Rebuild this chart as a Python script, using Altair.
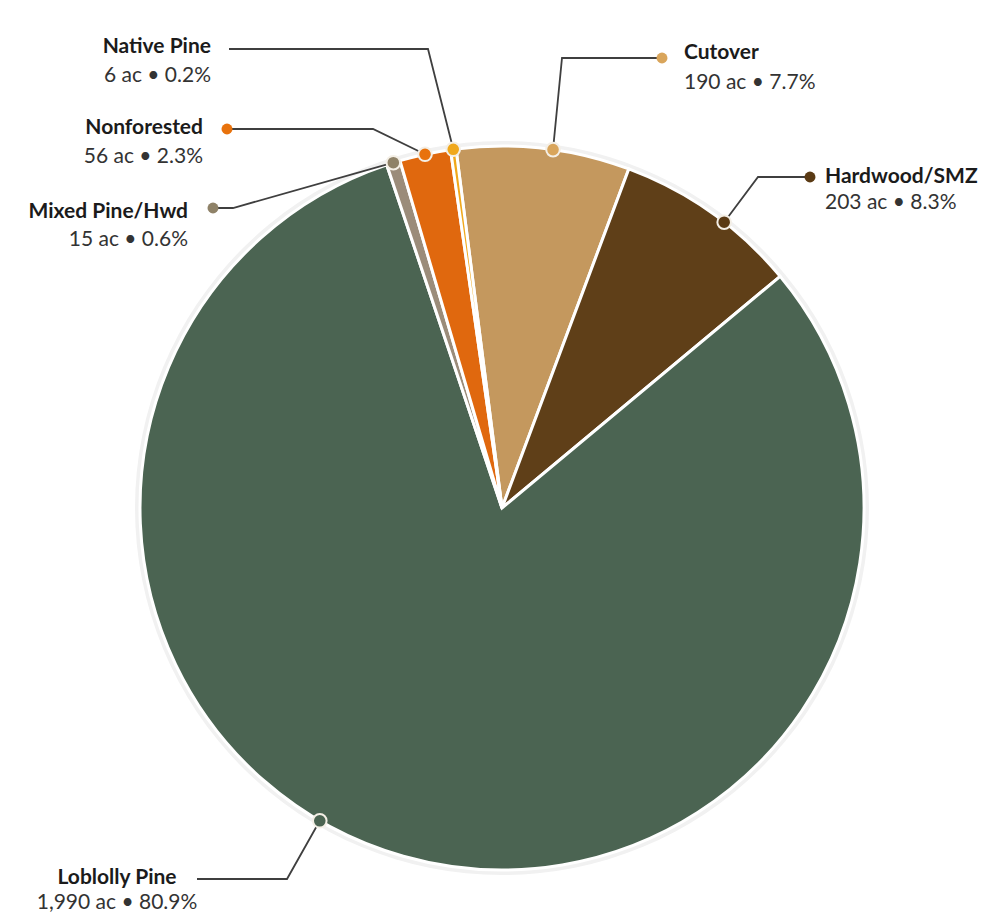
import math
import altair as alt
import pandas as pd

# ---- data ----
names = ["Cutover", "Hardwood/SMZ", "Loblolly Pine", "Mixed Pine/Hwd", "Nonforested", "Native Pine"]
acres = [190, 203, 1990, 15, 56, 6]
slice_colors = ["#c4985e", "#5f3f18", "#4b6452", "#9b8c7a", "#e0680e", "#f0a81c"]
dot_colors = ["#d9a55b", "#5a3a14", "#4b6452", "#8f8268", "#e8720c", "#f0a81c"]

# ---- layout ----
W, H = 970, 906
CX, CY = 502, 508          # pie centre in page pixels
R = 362
START_DEG = -7.3
anchor_offset_deg = [1.5, 2.5, 14.4, 0.0, 0.0, 0.0]
leader_pts = [
    [(562, 58), (662, 58)],
    [(758, 177), (810, 177)],
    [(287, 879), (197, 879)],
    [(233, 208), (213, 208)],
    [(373, 129), (227, 129)],
    [(428, 49), (229, 49)],
]
end_dot = [True, True, False, True, True, False]
text_pos = [  # x, y bold, y sub, align
    (684, 53, 83, "left"),
    (825, 177, 203, "left"),
    (117, 878, 903, "center"),
    (188, 212, 240, "right"),
    (203, 128, 157, "right"),
    (211, 47, 76, "right"),
]
FS = 21

def px2d(px, py):
    return px - CX, CY - py

total = sum(acres)
xs = alt.Scale(domain=[8 - CX, 8 + W - CX], range=[0, W], nice=False, zero=False)
ys = alt.Scale(domain=[CY - 8 - H, CY - 8], range=[H, 0], nice=False, zero=False)

pie_df = pd.DataFrame({
    "name": names, "acres": acres, "ord": list(range(len(names))),
    "cx": [0] * len(names), "cy": [0] * len(names),
})

anchors, lines, dots, texts = [], [], [], []
cum = START_DEG
for i, (n, a) in enumerate(zip(names, acres)):
    span = a / total * 360.0
    mid = cum + span / 2 + anchor_offset_deg[i]
    cum += span
    t = math.radians(mid)
    ax, ay = R * math.sin(t), R * math.cos(t)
    anchors.append({"name": n, "x": ax, "y": ay, "col": dot_colors[i]})
    pts = [(ax, ay)] + [px2d(*p) for p in leader_pts[i]]
    for k, (lx, ly) in enumerate(pts):
        lines.append({"name": n, "seq": k, "x": lx, "y": ly})
    if end_dot[i]:
        ex, ey = px2d(*leader_pts[i][-1])
        dots.append({"name": n, "x": ex, "y": ey, "col": dot_colors[i]})
    tx, tyb, tys, al = text_pos[i]
    pct = a / total * 100
    texts.append({"name": n, "x": px2d(tx, 0)[0], "yb": px2d(0, tyb)[1], "ys": px2d(0, tys)[1],
                  "bold": n, "sub": f"{a:,} ac \u2022 {pct:.1f}%", "align": al})

anch_df = pd.DataFrame(anchors)
line_df = pd.DataFrame(lines)
dot_df = pd.DataFrame(dots)
text_df = pd.DataFrame(texts)

X = lambda f: alt.X(f, type="quantitative", scale=xs, axis=None)
Y = lambda f: alt.Y(f, type="quantitative", scale=ys, axis=None)

shadow = alt.Chart(pie_df.head(1)).mark_arc(
    radius=R + 5, theta=0, theta2=2 * math.pi, color="#f1f1f1"
).encode(x=X("cx"), y=Y("cy"))

t0 = 2 * math.pi + math.radians(START_DEG)
pie = alt.Chart(pie_df).mark_arc(radius=R, stroke="white", strokeWidth=3).encode(
    x=X("cx"), y=Y("cy"),
    theta=alt.Theta("acres:Q", stack=True, scale=alt.Scale(range=[t0, t0 + 2 * math.pi])),
    order=alt.Order("ord:Q"),
    color=alt.Color("name:N", scale=alt.Scale(domain=names, range=slice_colors), legend=None),
)

leaders = alt.Chart(line_df).mark_line(color="#3f3f3f", strokeWidth=1.8).encode(
    x=X("x"), y=Y("y"), detail="name:N", order="seq:Q"
)

end_dots = alt.Chart(dot_df).mark_point(filled=True, size=120, opacity=1, strokeWidth=0).encode(
    x=X("x"), y=Y("y"), fill=alt.Fill("col:N", scale=None)
)

anchor_dots = alt.Chart(anch_df).mark_point(
    filled=True, size=185, opacity=1, stroke="#f4efe6", strokeWidth=2
).encode(x=X("x"), y=Y("y"), fill=alt.Fill("col:N", scale=None))

text_layers = []
for al in ["left", "center", "right"]:
    sub = text_df[text_df["align"] == al]
    if len(sub) == 0:
        continue
    text_layers.append(alt.Chart(sub).mark_text(
        align=al, baseline="middle", font="Lato", fontSize=FS, fontWeight="bold", color="#1b1b1b"
    ).encode(x=X("x"), y=Y("yb"), text="bold:N"))
    text_layers.append(alt.Chart(sub).mark_text(
        align=al, baseline="middle", font="Lato", fontSize=FS, color="#333333"
    ).encode(x=X("x"), y=Y("ys"), text="sub:N"))

chart = alt.layer(shadow, pie, leaders, end_dots, anchor_dots, *text_layers).properties(
    width=W, height=H, autosize=alt.AutoSizeParams(type="none"), padding=0, background="white"
).configure_view(stroke=None)

chart.save("out.html", embed_options={"renderer": "svg", "actions": False})
